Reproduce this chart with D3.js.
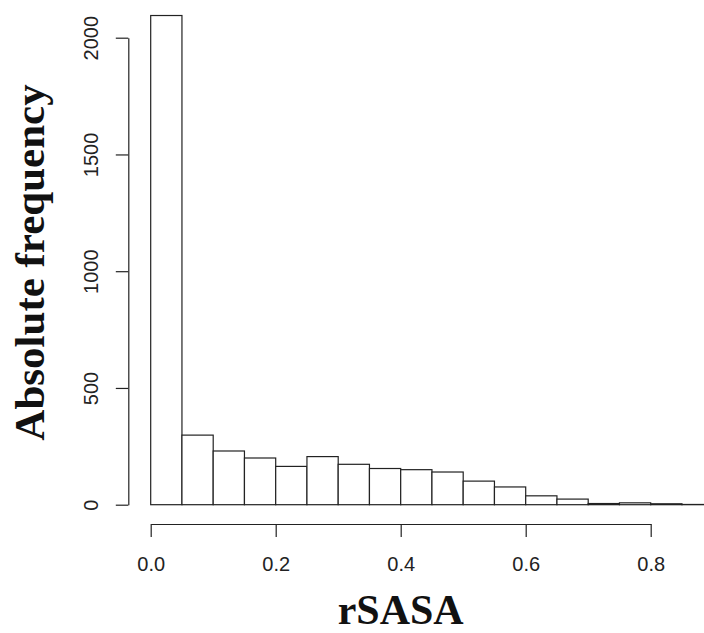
<!DOCTYPE html>
<html>
<head>
<meta charset="utf-8">
<script src="https://cdn.jsdelivr.net/npm/d3@7"></script>
<style>
html,body{margin:0;padding:0;background:#fff;}
svg{display:block;}
</style>
</head>
<body>
<svg id="chart" width="704" height="633"></svg>
<script>
// Data
const binStart = [0.00,0.05,0.10,0.15,0.20,0.25,0.30,0.35,0.40,0.45,0.50,0.55,0.60,0.65,0.70,0.75,0.80,0.85];
const binEnd   = [0.05,0.10,0.15,0.20,0.25,0.30,0.35,0.40,0.45,0.50,0.55,0.60,0.65,0.70,0.75,0.80,0.85,0.90];
const counts   = [2095,298,230,200,164,206,173,155,150,140,101,76,38,24,5,8,4,1];
const xTicks = [0.0,0.2,0.4,0.6,0.8];
const yTicks = [0,500,1000,1500,2000];
const xTitle = "rSASA";
const yTitle = "Absolute frequency";

const svg = d3.select("#chart");
const x = d3.scaleLinear().domain([0,0.8]).range([150.7,650.7]);
const y = d3.scaleLinear().domain([0,2000]).range([504.7,37.7]);
const ink = "#222";

// bars
svg.append("g").selectAll("rect")
  .data(counts.map((c,i)=>({x0:binStart[i],x1:binEnd[i],c})))
  .join("rect")
  .attr("x", d=>x(d.x0))
  .attr("width", d=>x(d.x1)-x(d.x0))
  .attr("y", d=>y(d.c))
  .attr("height", d=>y(0)-y(d.c))
  .attr("fill","#fff")
  .attr("stroke",ink)
  .attr("stroke-width",1.2);

// y axis
const yAxis = d3.axisLeft(y).tickValues(yTicks).tickSize(12.5).tickSizeOuter(0).tickPadding(0).tickFormat(d3.format("d"));
const gy = svg.append("g").attr("transform","translate(128.3,0)").call(yAxis);
gy.select(".domain").attr("stroke",ink).attr("stroke-width",1.2);
gy.selectAll(".tick line").attr("stroke",ink).attr("stroke-width",1.2);
gy.selectAll(".tick text")
  .attr("x",0).attr("dy",null).attr("y",0)
  .attr("transform","translate(-30,0) rotate(-90)")
  .attr("text-anchor","middle")
  .attr("font-family","'Liberation Sans', Arial, sans-serif")
  .attr("font-size",20)
  .attr("fill",ink);

// x axis
const xAxis = d3.axisBottom(x).tickValues(xTicks).tickSize(13).tickSizeOuter(0).tickPadding(0).tickFormat(d3.format(".1f"));
const gx = svg.append("g").attr("transform","translate(0,524)").call(xAxis);
gx.select(".domain").attr("stroke",ink).attr("stroke-width",1.2);
gx.selectAll(".tick line").attr("stroke",ink).attr("stroke-width",1.2);
gx.selectAll(".tick text")
  .attr("y",47).attr("dy",null)
  .attr("font-family","'Liberation Sans', Arial, sans-serif")
  .attr("font-size",20)
  .attr("fill",ink);

// titles
svg.append("text")
  .attr("x",400.7).attr("y",624)
  .attr("text-anchor","middle")
  .attr("font-family","'Liberation Serif', 'Times New Roman', serif")
  .attr("font-weight","bold")
  .attr("font-size",42)
  .attr("fill","#111")
  .text(xTitle);

svg.append("text")
  .attr("transform","translate(44,262.5) rotate(-90)")
  .attr("text-anchor","middle")
  .attr("font-family","'Liberation Serif', 'Times New Roman', serif")
  .attr("font-weight","bold")
  .attr("font-size",43)
  .attr("fill","#111")
  .text(yTitle);
</script>
</body>
</html>
